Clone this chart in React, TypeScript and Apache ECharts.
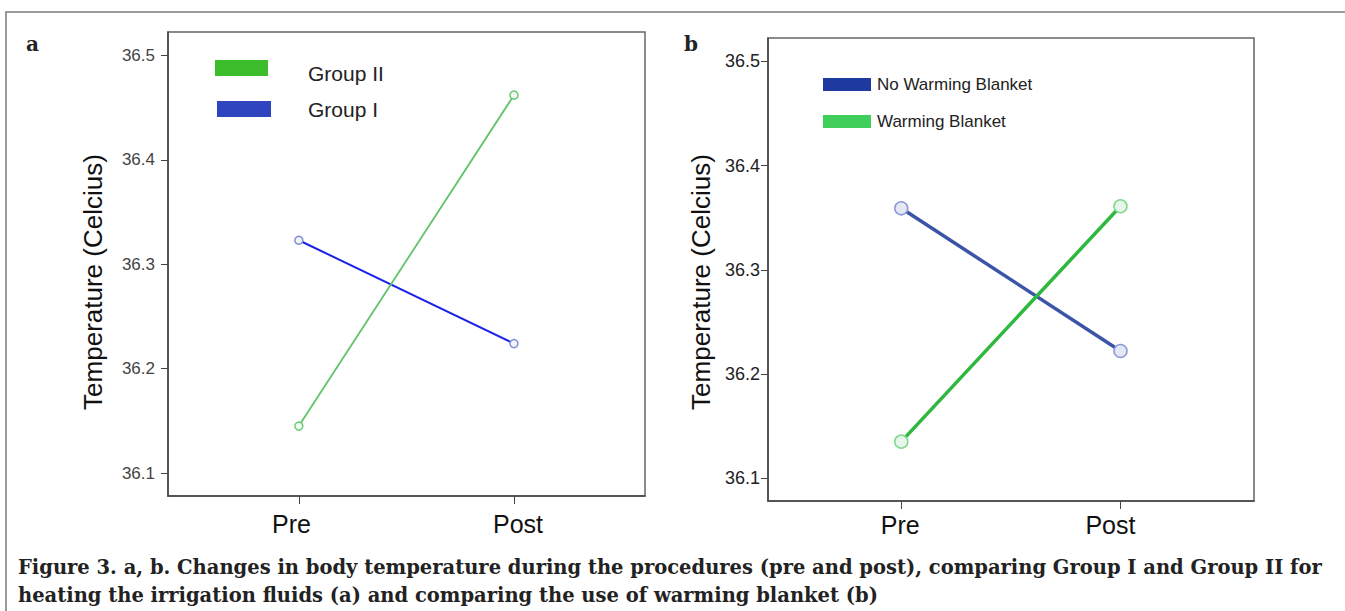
import React, { useEffect, useRef } from "react";
import * as echarts from "echarts";

const categories = ["Pre", "Post"];
const yTicks = [36.1, 36.2, 36.3, 36.4, 36.5];
const groupNamesA = ["Group II", "Group I"];
const groupII = [36.145, 36.462];
const groupI = [36.323, 36.224];
const groupNamesB = ["No Warming Blanket", "Warming Blanket"];
const noBlanket = [36.359, 36.222];
const blanket = [36.135, 36.361];
const yTitle = "Temperature (Celcius)";
const caption1 =
  "Figure 3. a, b. Changes in body temperature during the procedures (pre and post), comparing Group I and Group II for";
const caption2 =
  "heating the irrigation fluids (a) and comparing the use of warming blanket (b)";

const SANS = "Liberation Sans, Arial, sans-serif";
const SERIF = "DejaVu Serif, serif";

const toPts = (vals: number[]) => vals.map((v, i) => [i, v]);

export default function App() {
  const ref = useRef<HTMLDivElement>(null);
  useEffect(() => {
    document.body.style.margin = "0";
    const chart = echarts.init(ref.current!, null, { renderer: "svg" });
    const xAxisBase = (idx: number, margin: number, labelPos: number[]) => ({
      type: "value",
      gridIndex: idx,
      min: -0.608,
      max: 1.609,
      splitLine: { show: false },
      axisLine: { show: true, onZero: false, lineStyle: { color: "#444", width: 1.5 } },
      axisTick: { show: true, customValues: [0, 1], length: 8, lineStyle: { color: "#444" } },
      axisLabel: {
        customValues: labelPos,
        formatter: (v: number) => categories[v < 0.5 ? 0 : 1],
        fontFamily: SANS,
        fontSize: 25,
        color: "#111",
        margin,
      },
    });
    const yAxisBase = (idx: number, margin: number, size: number, color: string) => ({
      type: "value",
      gridIndex: idx,
      min: 36.078,
      max: 36.5225,
      splitLine: { show: false },
      axisLine: { show: true, onZero: false, lineStyle: { color: "#444", width: 1.5 } },
      axisTick: { show: true, customValues: yTicks, length: 7, lineStyle: { color: "#444" } },
      axisLabel: {
        customValues: yTicks,
        formatter: (v: number) => v.toFixed(1),
        fontFamily: SANS,
        fontSize: size,
        color,
        margin,
      },
    });
    chart.setOption({
      animation: false,
      backgroundColor: "#ffffff",
      grid: [
        { left: 168, top: 32, width: 477, height: 464, show: true, borderColor: "#666", borderWidth: 1.5 },
        { left: 768, top: 38, width: 486, height: 463, show: true, borderColor: "#666", borderWidth: 1.5 },
      ],
      xAxis: [xAxisBase(0, 15, [-0.034, 1.019]), xAxisBase(1, 11, [-0.005, 0.954])],
      yAxis: [yAxisBase(0, 13, 17, "#444"), yAxisBase(1, 8, 18, "#222")],
      series: [
        {
          name: groupNamesA[1],
          type: "line",
          xAxisIndex: 0,
          yAxisIndex: 0,
          data: toPts(groupI),
          lineStyle: { color: "#1a22e8", width: 2 },
          symbol: "circle",
          symbolSize: 8,
          itemStyle: { color: "#f4f5fb", borderColor: "#8090d6", borderWidth: 1.5 },
        },
        {
          name: groupNamesA[0],
          type: "line",
          xAxisIndex: 0,
          yAxisIndex: 0,
          data: toPts(groupII),
          lineStyle: { color: "#62c26a", width: 1.8 },
          symbol: "circle",
          symbolSize: 8,
          itemStyle: { color: "#f2faf3", borderColor: "#6acb76", borderWidth: 1.5 },
        },
        {
          name: groupNamesB[0],
          type: "line",
          xAxisIndex: 1,
          yAxisIndex: 1,
          data: toPts(noBlanket),
          lineStyle: { color: "#3c54a8", width: 3.5 },
          symbol: "circle",
          symbolSize: 13,
          itemStyle: { color: "#e4e8f4", borderColor: "#8a9ad6", borderWidth: 1.5 },
        },
        {
          name: groupNamesB[1],
          type: "line",
          xAxisIndex: 1,
          yAxisIndex: 1,
          data: toPts(blanket),
          lineStyle: { color: "#2eb83e", width: 3.5 },
          symbol: "circle",
          symbolSize: 13,
          itemStyle: { color: "#e6f6e8", borderColor: "#7fd88c", borderWidth: 1.5 },
        },
      ],
      graphic: [
        {
          type: "rect",
          shape: { x: 6, y: 12, width: 1400, height: 700 },
          style: { fill: "none", stroke: "#7a7a7a", lineWidth: 1.5 },
          silent: true,
        },
        { type: "text", x: 26, y: 34, style: { text: "a", font: `bold 20px ${SERIF}`, fill: "#222" } },
        { type: "text", x: 684, y: 34, style: { text: "b", font: `bold 20px ${SERIF}`, fill: "#222" } },
        {
          type: "text",
          x: 93,
          y: 282,
          rotation: Math.PI / 2,
          style: { text: yTitle, font: `26px ${SANS}`, fill: "#111", align: "center", verticalAlign: "middle" },
        },
        {
          type: "text",
          x: 701,
          y: 282,
          rotation: Math.PI / 2,
          style: { text: yTitle, font: `26px ${SANS}`, fill: "#111", align: "center", verticalAlign: "middle" },
        },
        // legend a
        { type: "rect", shape: { x: 215, y: 60, width: 53, height: 16 }, style: { fill: "#3cbd2c" } },
        { type: "rect", shape: { x: 217, y: 101, width: 54, height: 16 }, style: { fill: "#2f45c0" } },
        {
          type: "text",
          x: 308,
          y: 73,
          style: { text: groupNamesA[0], font: `21px ${SANS}`, fill: "#222", verticalAlign: "middle" },
        },
        {
          type: "text",
          x: 308,
          y: 109,
          style: { text: groupNamesA[1], font: `21px ${SANS}`, fill: "#222", verticalAlign: "middle" },
        },
        // legend b
        { type: "rect", shape: { x: 823, y: 78, width: 48, height: 13 }, style: { fill: "#1f3a9e" } },
        { type: "rect", shape: { x: 823, y: 115, width: 48, height: 13 }, style: { fill: "#3fcf5a" } },
        {
          type: "text",
          x: 877,
          y: 84,
          style: { text: groupNamesB[0], font: `17px ${SANS}`, fill: "#222", verticalAlign: "middle" },
        },
        {
          type: "text",
          x: 877,
          y: 121,
          style: { text: groupNamesB[1], font: `17px ${SANS}`, fill: "#222", verticalAlign: "middle" },
        },
        // caption
        {
          type: "text",
          x: 18,
          y: 567,
          style: { text: caption1, font: `bold 19.5px ${SERIF}`, fill: "#222", verticalAlign: "middle" },
        },
        {
          type: "text",
          x: 18,
          y: 595,
          style: { text: caption2, font: `bold 19.5px ${SERIF}`, fill: "#222", verticalAlign: "middle" },
        },
      ],
    });
    return () => chart.dispose();
  }, []);
  return (
    <div
      ref={ref}
      style={{ position: "absolute", left: 0, top: 0, width: 1345, height: 611 }}
    />
  );
}
